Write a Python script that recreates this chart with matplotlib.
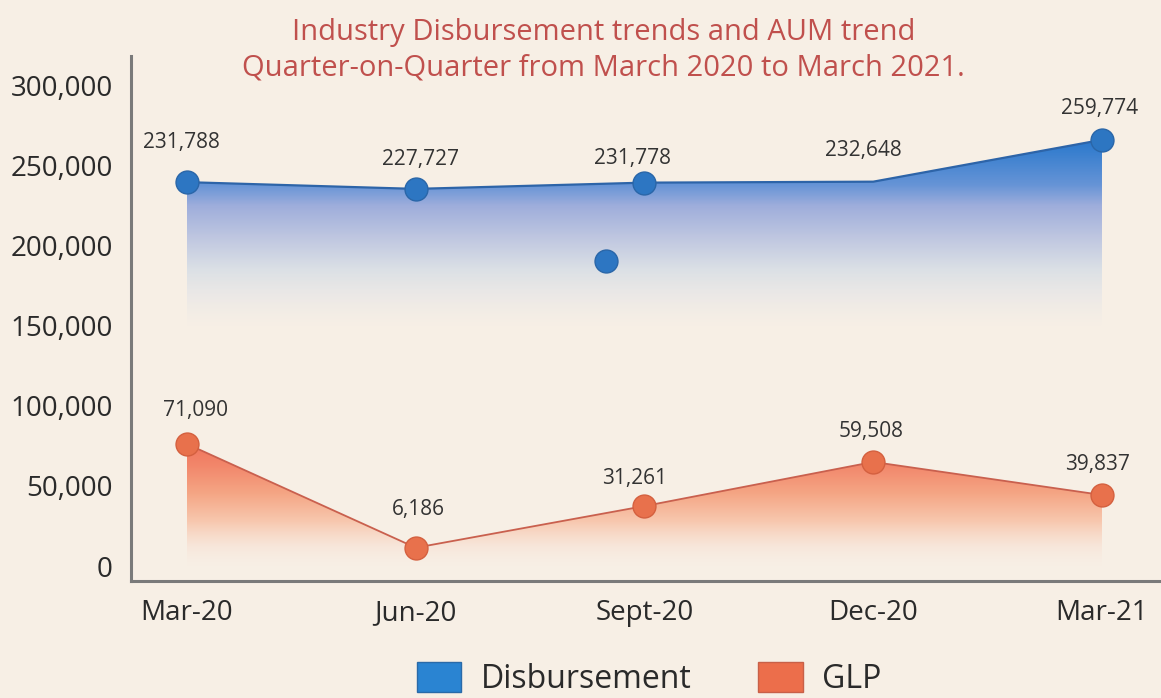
import numpy as np
import matplotlib.pyplot as plt
from matplotlib.patches import Polygon, Patch
from matplotlib.ticker import FuncFormatter

quarters = ['Mar-20', 'Jun-20', 'Sept-20', 'Dec-20', 'Mar-21']

# values as printed on the chart
disb_labels = ['231,788', '227,727', '231,778', '232,648', '259,774']
glp_labels = ['71,090', '6,186', '31,261', '59,508', '39,837']

# where the points actually sit on the y axis in the picture
disb_plot = [239400, 235200, 239100, 239700, 265800]
glp_plot = [76100, 11400, 37400, 64900, 44300]
disb_marked = [0, 1, 2, 4]          # Dec-20 has no dot
stray_x, stray_y = 1.83, 190300     # loose blue dot near Sept-20

bg = '#f7efe5'
plt.rcParams['font.family'] = ['Open Sans', 'DejaVu Sans']

fig = plt.figure(figsize=(11.61, 6.98), dpi=100, facecolor=bg)
ax = fig.add_axes([0.1128, 0.1676, 0.8872, 0.7522])
ax.set_facecolor(bg)


def gradient_fill(ax, x, y, stops, ybot):
    verts = [(x[0], ybot)] + list(zip(x, y)) + [(x[-1], ybot)]
    patch = Polygon(verts, closed=True, facecolor='none', edgecolor='none')
    ax.add_patch(patch)
    ytop = max(y)
    ys = np.linspace(ybot, ytop, 300)
    sv = np.array([s[0] for s in stops])
    grad = np.zeros((len(ys), 1, 4))
    for c in range(4):
        grad[:, 0, c] = np.interp(ys, sv, [s[1][c] for s in stops])
    img = ax.imshow(grad, extent=[x[0], x[-1], ybot, ytop], origin='lower',
                    aspect='auto', interpolation='bilinear', zorder=1)
    img.set_clip_path(patch)


x = np.arange(len(quarters))

blue_stops = [
    (150000, (0.92, 0.91, 0.90, 0.0)),
    (168000, (0.90, 0.90, 0.91, 0.6)),
    (185000, (0.86, 0.88, 0.90, 1.0)),
    (205000, (0.75, 0.78, 0.88, 1.0)),
    (225000, (0.62, 0.68, 0.86, 1.0)),
    (238000, (0.40, 0.58, 0.84, 1.0)),
    (266000, (0.16, 0.47, 0.80, 1.0)),
]
orange_stops = [
    (0, (0.97, 0.92, 0.88, 0.0)),
    (12000, (0.97, 0.89, 0.84, 0.7)),
    (28000, (0.97, 0.78, 0.68, 1.0)),
    (45000, (0.96, 0.65, 0.52, 1.0)),
    (62000, (0.95, 0.53, 0.42, 1.0)),
    (77000, (0.94, 0.45, 0.36, 1.0)),
]
gradient_fill(ax, x, disb_plot, blue_stops, 150000)
gradient_fill(ax, x, glp_plot, orange_stops, 0)

ax.plot(x, disb_plot, color='#2d64a8', lw=1.6, zorder=3)
ax.plot(x, glp_plot, color='#c9604e', lw=1.3, zorder=3)

ax.plot([x[i] for i in disb_marked], [disb_plot[i] for i in disb_marked], 'o',
        ms=16.5, mfc='#2d76c2', mec='#2a66a8', mew=1, zorder=4)
ax.plot([stray_x], [stray_y], 'o', ms=16.5, mfc='#2d76c2', mec='#2a66a8', mew=1, zorder=4)
ax.plot(x, glp_plot, 'o', ms=16.5, mfc='#e8714c', mec='#d4603f', mew=1, zorder=4)

# label offsets in pixels (dx, dy) from each point
disb_off = [(-6, 40), (5, 29), (-12, 24), (-10, 31), (-2, 31)]
glp_off = [(8, 33), (3, 38), (-10, 28), (-2, 30), (-4, 30)]
for i in range(len(quarters)):
    ax.annotate(disb_labels[i], (x[i], disb_plot[i]), xytext=disb_off[i],
                textcoords='offset pixels', ha='center', va='center',
                fontsize=15, color='#333333', zorder=5)
    ax.annotate(glp_labels[i], (x[i], glp_plot[i]), xytext=glp_off[i],
                textcoords='offset pixels', ha='center', va='center',
                fontsize=15, color='#333333', zorder=5)

ax.set_xlim(-0.245, 4.258)
ax.set_ylim(-9360, 318100)
ax.set_xticks(x)
ax.set_xticklabels(quarters)
ax.set_yticks(range(0, 300001, 50000))
ax.yaxis.set_major_formatter(FuncFormatter(lambda v, p: f'{int(v):,}'))
ax.tick_params(length=0, labelsize=20, labelcolor='#2a2a2a')
ax.tick_params(axis='y', pad=13)
ax.tick_params(axis='x', pad=13)
for s in ['top', 'right']:
    ax.spines[s].set_visible(False)
for s in ['left', 'bottom']:
    ax.spines[s].set_color('#7a7a7a')
    ax.spines[s].set_linewidth(2.2)

fig.text(0.52, 0.928, 'Industry Disbursement trends and AUM trend\n'
         'Quarter-on-Quarter from March 2020 to March 2021.',
         ha='center', va='center', fontsize=21, color='#c0504d', linespacing=1.3)

handles = [Patch(facecolor='#2a84d2', edgecolor='#2a6aa8', label='Disbursement'),
           Patch(facecolor='#ec6e4b', edgecolor='#c86048', label='GLP')]
fig.legend(handles=handles, loc='center', bbox_to_anchor=(0.559, 0.027), ncol=2,
           frameon=False, fontsize=23, handlelength=1.4, handleheight=1.03,
           handletextpad=0.6, columnspacing=2.1, labelcolor='#2a2a2a')

fig.savefig('out.png', dpi=100, facecolor=bg)
